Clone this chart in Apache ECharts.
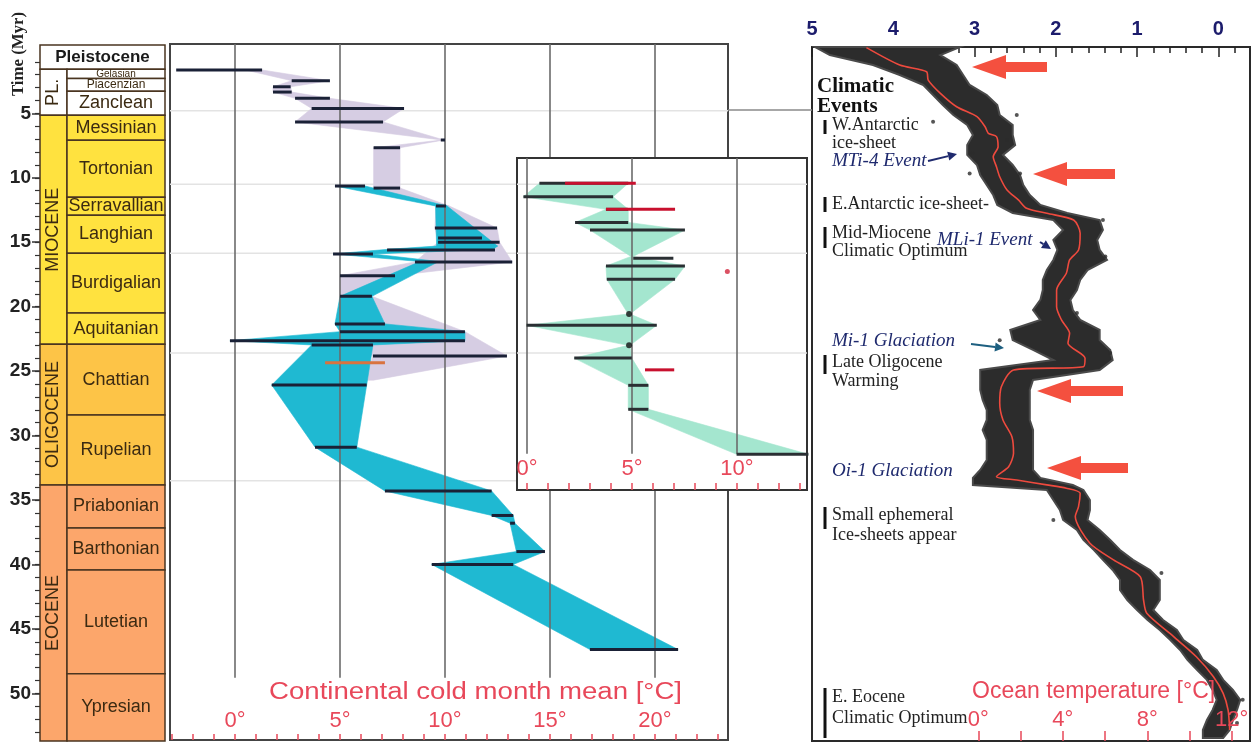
<!DOCTYPE html>
<html>
<head>
<meta charset="utf-8">
<script src="https://cdn.jsdelivr.net/npm/echarts@6/dist/echarts.min.js"></script>
<style>
html,body{margin:0;padding:0;background:#ffffff;}
#chart{width:1255px;height:744px;}
</style>
</head>
<body>
<div id="chart"></div>
<script>
// ---------------- Geological time scale (Myr) ----------------
const epochNames = ['Pleistocene', 'PL.', 'MIOCENE', 'OLIGOCENE', 'EOCENE'];
const epochStart = [-0.3, 1.59, 5.16, 22.91, 33.84];
const epochEnd   = [1.59, 5.16, 22.91, 33.84, 53.7];
const stageNames = ['Gelasian', 'Piacenzian', 'Zanclean', 'Messinian', 'Tortonian', 'Serravallian', 'Langhian',
  'Burdigalian', 'Aquitanian', 'Chattian', 'Rupelian', 'Priabonian', 'Barthonian', 'Lutetian', 'Ypresian'];
const stageStart = [1.59, 2.29, 3.29, 5.16, 7.09, 11.51, 12.91, 15.85, 20.50, 22.91, 28.41, 33.84, 37.17, 40.43, 48.49];
const stageEnd   = [2.29, 3.29, 5.16, 7.09, 11.51, 12.91, 15.85, 20.50, 22.91, 28.41, 33.84, 37.17, 40.43, 48.49, 53.7];
const stageEpoch = ['PL.', 'PL.', 'PL.', 'MIOCENE', 'MIOCENE', 'MIOCENE', 'MIOCENE', 'MIOCENE', 'MIOCENE',
  'OLIGOCENE', 'OLIGOCENE', 'EOCENE', 'EOCENE', 'EOCENE', 'EOCENE'];
const timeLabels = [5, 10, 15, 20, 25, 30, 35, 40, 45, 50];

// ---------------- Continental cold month mean (main panel) ----------------
const barT  = [1.64, 2.47, 2.94, 3.35, 3.84, 4.62, 5.67, 7.07, 7.67, 10.8, 10.64, 12.19, 13.9, 14.67, 15.0, 15.6, 15.91, 16.53, 17.6, 19.2, 21.34, 21.94, 22.64, 22.97, 23.83, 26.08, 30.9, 34.3, 36.2, 36.8, 39.0, 40.0, 46.6];
const barLo = [-2.8, 2.7, 1.81, 1.81, 2.86, 3.65, 2.86, 9.8, 6.6, 6.6, 4.76, 9.57, 9.52, 9.67, 9.67, 7.24, 4.67, 8.57, 5.0, 5.0, 4.76, 5.0, -0.24, 3.65, 6.57, 1.75, 3.81, 7.14, 12.22, 13.1, 13.4, 9.37, 16.9];
const barHi = [1.29, 4.52, 2.65, 2.7, 4.52, 8.05, 7.05, 10.0, 7.86, 7.86, 6.19, 10.05, 12.48, 11.76, 12.6, 12.38, 6.57, 13.2, 7.62, 6.52, 7.14, 10.95, 10.95, 6.57, 12.95, 6.27, 5.8, 12.22, 13.25, 13.33, 14.76, 13.25, 21.1];
const orangeBarT = [24.35];
const orangeBarLo = [4.29];
const orangeBarHi = [7.14];
const purpleT  = [1.64, 2.47, 2.94, 3.35, 3.84, 4.62, 5.67, 7.07, 7.67, 10.8, 12.19, 13.9, 15.0, 16.53, 17.6, 19.2, 21.94, 23.83, 25.7];
const purpleLo = [0.5, 2.7, 1.81, 1.81, 2.86, 3.65, 2.86, 9.85, 6.6, 6.6, 9.57, 9.52, 9.67, 8.57, 5.0, 5.0, 5.0, 6.57, 6.2];
const purpleHi = [1.29, 4.52, 2.65, 2.7, 4.52, 8.05, 7.05, 9.95, 7.86, 7.86, 10.2, 12.48, 12.6, 13.2, 7.62, 6.52, 10.95, 12.95, 6.6];
const cyanT  = [10.64, 12.19, 15.3, 15.55, 15.91, 16.5, 19.2, 21.34, 21.94, 22.64, 22.97, 26.08, 30.9, 34.3, 36.2, 36.8, 39.0, 40.0, 46.6];
const cyanLo = [4.76, 9.55, 9.6, 7.3, 4.67, 8.8, 5.0, 4.76, 5.0, -0.24, 3.65, 1.75, 3.81, 7.14, 12.22, 13.1, 13.4, 9.37, 16.9];
const cyanHi = [6.19, 10.1, 12.5, 12.3, 6.57, 9.7, 6.52, 7.14, 10.95, 10.95, 6.57, 6.27, 5.8, 12.22, 13.25, 13.33, 14.76, 13.25, 21.1];
const mainTicks = [0, 5, 10, 15, 20];
const guideT = [4.8, 10.5, 15.85, 23.6, 33.5];
const mainGridEndT = 48.8;

// ---------------- Inset ----------------
const insetBarT  = [10.43, 11.47, 12.45, 13.46, 14.06, 16.25, 16.85, 17.88, 21.44, 23.99, 26.1, 27.96, 31.45];
const insetBarLo = [0.59, -0.17, 3.76, 2.29, 3.0, 5.06, 3.76, 3.8, -0.02, 2.25, 4.82, 4.82, 9.98];
const insetBarHi = [4.82, 4.1, 4.82, 4.82, 7.52, 6.97, 7.52, 7.05, 6.18, 4.99, 5.78, 5.78, 13.4];
const insetRedT  = [10.43, 12.45, 24.9];
const insetRedLo = [1.81, 3.76, 5.62];
const insetRedHi = [5.18, 7.05, 7.01];
const insetDotT = [20.57, 23.0];
const insetDotV = [4.86, 4.86];
const insetRedDotT = [17.28];
const insetRedDotV = [9.54];
const greenT  = [10.43, 11.47, 12.45, 13.46, 14.06, 16.1, 16.85, 17.88, 20.57, 21.44, 23.0, 23.99, 26.1, 27.96, 31.45];
const greenLo = [0.59, -0.17, 3.76, 2.29, 3.0, 4.95, 3.76, 3.8, 4.82, -0.02, 4.82, 2.25, 4.82, 4.82, 9.98];
const greenHi = [4.82, 4.1, 4.82, 4.82, 7.52, 5.05, 7.52, 7.05, 4.9, 6.18, 4.9, 4.99, 5.78, 5.78, 13.4];
const insetTicks = [0, 5, 10];
const insetGuideT = [10.5, 15.85, 23.6];
const insetGridEndT = 31.4;

// ---------------- Ocean d18O record (right panel) ----------------
const curveT = [-0.1, 1.25, 1.77, 2.42, 3.45, 4.49, 5.26, 6.04, 6.55, 6.81, 7.59, 8.37, 9.14, 9.92, 10.95, 11.72, 12.37, 12.76, 13.28, 14.31, 15.6, 16.38, 17.41, 18.71, 20.0, 21.03, 22.07, 22.84, 24.0, 24.66, 24.91, 26.21, 27.5, 28.79, 30.09, 31.38, 32.42, 33.19, 33.45, 33.83, 34.09, 34.48, 35.52, 36.29, 38.36, 39.65, 40.95, 42.76, 43.79, 45.6, 47.16, 48.71, 50.0, 51.29, 52.84];
const curveD = [4.33, 3.92, 3.59, 3.57, 3.42, 3.22, 2.97, 2.87, 2.83, 2.73, 2.71, 2.77, 2.73, 2.69, 2.60, 2.46, 2.36, 2.11, 1.78, 1.70, 1.72, 1.83, 1.87, 1.99, 1.99, 1.93, 1.83, 1.85, 1.64, 1.66, 2.52, 2.67, 2.69, 2.65, 2.54, 2.52, 2.58, 2.73, 2.48, 2.11, 1.87, 1.70, 1.72, 1.76, 1.58, 1.29, 0.96, 0.92, 0.88, 0.55, 0.27, 0.06, -0.06, -0.12, -0.14];
const cloudT = [-0.14, 0.48, 1.25, 2.03, 2.80, 3.58, 4.35, 5.13, 5.91, 6.68, 7.46, 8.23, 9.01, 9.79, 10.56, 11.34, 12.11, 12.73, 13.28, 14.05, 14.83, 15.60, 16.38, 17.16, 17.93, 18.71, 19.48, 20.26, 21.03, 21.81, 22.59, 23.36, 24.14, 24.91, 25.69, 26.46, 27.24, 28.02, 28.79, 29.57, 30.34, 31.12, 31.90, 32.67, 33.29, 33.84, 34.22, 35.00, 35.78, 36.55, 37.33, 38.10, 38.88, 39.65, 40.43, 41.21, 41.98, 42.76, 43.54, 44.31, 45.09, 45.86, 46.64, 47.41, 48.19, 48.96, 49.74, 50.51, 51.29, 52.07, 52.84, 53.46];
const cloudHeavy = [4.96, 4.78, 4.25, 3.92, 3.63, 3.51, 3.39, 3.26, 3.09, 3.02, 3.09, 3.09, 2.97, 2.93, 2.85, 2.77, 2.72, 2.53, 2.03, 1.91, 2.03, 1.98, 2.03, 2.11, 2.16, 2.16, 2.19, 2.28, 2.19, 2.56, 2.53, 2.28, 2.03, 2.93, 2.93, 2.93, 2.90, 2.85, 2.85, 2.90, 2.85, 2.85, 2.85, 2.93, 3.02, 3.02, 2.11, 2.03, 1.95, 1.91, 1.74, 1.66, 1.53, 1.42, 1.30, 1.21, 1.21, 1.12, 1.00, 0.87, 0.72, 0.59, 0.47, 0.38, 0.26, 0.14, 0.07, 0.02, 0.07, 0.14, 0.19, 0.19];
const cloudLight = [3.18, 3.42, 3.22, 3.14, 3.06, 2.85, 2.72, 2.69, 2.53, 2.53, 2.50, 2.65, 2.53, 2.44, 2.40, 2.32, 2.19, 1.86, 1.46, 1.42, 1.49, 1.46, 1.37, 1.61, 1.70, 1.74, 1.82, 1.79, 1.70, 1.46, 1.46, 1.33, 1.30, 1.46, 2.28, 2.32, 2.32, 2.32, 2.32, 2.28, 2.28, 2.28, 2.28, 2.28, 2.19, 1.79, 1.66, 1.58, 1.58, 1.61, 1.46, 1.33, 1.21, 1.05, 0.84, 0.72, 0.72, 0.72, 0.80, 0.68, 0.51, 0.43, 0.26, 0.19, 0.02, -0.06, -0.18, -0.27, -0.23, -0.18, -0.14, -0.06];
const outlierT = [5.13, 7.07, 9.66, 9.66, 8.07, 5.65, 13.28, 16.1, 20.5, 23.6, 22.6, 40.66, 36.55, 50.5, 52.3];
const outlierD = [2.48, 2.60, 2.44, 3.06, 3.02, 3.51, 1.42, 1.39, 1.74, 1.33, 2.69, 0.70, 2.03, -0.30, -0.23];
const d18OLabels = [0, 1, 2, 3, 4, 5];
const oceanTempLabels = [0, 4, 8, 12];
const oceanTempTicks = [0, 2, 4, 6, 8, 10, 12];

// ---------------- helpers ----------------
const range = (a, b, s = 1) => { const r = []; for (let v = a; v <= b + 1e-9; v += s) r.push(Math.round(v * 100) / 100); return r; };
const EPOCH_W = 0.216;
const epochFill = { 'Pleistocene': '#ffffff', 'PL.': '#ffffff', 'MIOCENE': '#ffe23f', 'OLIGOCENE': '#fdc447', 'EOCENE': '#fca66b' };
const stageFont = { 'Gelasian': 10, 'Piacenzian': 12 };
const SANS = '"Liberation Sans", Arial, sans-serif';
const SERIF = '"Liberation Serif", "Times New Roman", serif';
const NO_LINE = { show: false, onZero: false };

function txt(x, y, text, font, fill, align, extra) {
  return Object.assign({ type: 'text', x, y, silent: true,
    style: { text, font, fill, align: align || 'left', textAlign: align || 'left', verticalAlign: 'middle', textVerticalAlign: 'middle' } }, extra || {});
}

function bandSeries(T, LO, HI, color, xi, yi, z) {
  return {
    type: 'custom', xAxisIndex: xi, yAxisIndex: yi, z, silent: true,
    data: T.slice(0, -1).map((t, i) => [LO[i], t]),
    renderItem(params, api) {
      const i = params.dataIndex;
      const pts = [api.coord([LO[i], T[i]]), api.coord([HI[i], T[i]]), api.coord([HI[i + 1], T[i + 1]]), api.coord([LO[i + 1], T[i + 1]])];
      return { type: 'polygon', shape: { points: pts }, style: { fill: color, stroke: color, lineWidth: 0.6 } };
    }
  };
}
function barSeries(T, LO, HI, color, width, xi, yi, z) {
  return {
    type: 'custom', xAxisIndex: xi, yAxisIndex: yi, z, silent: true,
    data: T.map((t, i) => [LO[i], t]),
    renderItem(params, api) {
      const i = params.dataIndex;
      const a = api.coord([LO[i], T[i]]), b = api.coord([HI[i], T[i]]);
      return { type: 'line', shape: { x1: a[0], y1: a[1], x2: b[0], y2: b[1] }, style: { stroke: color, lineWidth: width } };
    }
  };
}
function vGridSeries(values, tEnd, xi, yi, z) {
  return {
    type: 'custom', xAxisIndex: xi, yAxisIndex: yi, z, silent: true,
    data: values.map(v => [v, tEnd]),
    renderItem(params, api) {
      const v = values[params.dataIndex];
      const cs = params.coordSys;
      const p = api.coord([v, tEnd]);
      return { type: 'line', shape: { x1: p[0], y1: cs.y, x2: p[0], y2: p[1] }, style: { stroke: '#6b6b6b', lineWidth: 1.6 } };
    }
  };
}
function hGuideSeries(values, xi, yi, z) {
  return {
    type: 'custom', xAxisIndex: xi, yAxisIndex: yi, z, silent: true,
    data: values.map(t => [0, t]),
    renderItem(params, api) {
      const t = values[params.dataIndex];
      const cs = params.coordSys;
      const p = api.coord([0, t]);
      return { type: 'line', shape: { x1: cs.x, y1: p[1], x2: cs.x + cs.width, y2: p[1] }, style: { stroke: '#e3e3e3', lineWidth: 1.5 } };
    }
  };
}
function colSeries(names, starts, ends, isEpoch) {
  return {
    type: 'custom', xAxisIndex: 0, yAxisIndex: 0, z: 2, silent: true,
    data: names.map((n, i) => [0, starts[i]]),
    renderItem(params, api) {
      const i = params.dataIndex;
      const name = names[i];
      const full = isEpoch && name === 'Pleistocene';
      const x0 = isEpoch ? 0 : EPOCH_W;
      const x1 = (isEpoch && !full) ? EPOCH_W : 1;
      const p0 = api.coord([x0, starts[i]]), p1 = api.coord([x1, ends[i]]);
      const fill = epochFill[isEpoch ? name : stageEpoch[i]];
      const rect = { type: 'rect', shape: { x: p0[0], y: p0[1], width: p1[0] - p0[0], height: p1[1] - p0[1] },
        style: { fill, stroke: '#4a3520', lineWidth: 1.5 } };
      const cx = (p0[0] + p1[0]) / 2, cy = (p0[1] + p1[1]) / 2;
      let t;
      if (full) t = txt(cx, cy, name, 'bold 17px ' + SANS, '#1a1a1a', 'center');
      else if (isEpoch) t = txt(cx, cy, name, '18px ' + SANS, '#3b2a12', 'center', { rotation: Math.PI / 2 });
      else t = txt(cx, cy, name, (stageFont[name] || 18) + 'px ' + SANS, '#3b2a12', 'center');
      return { type: 'group', children: [rect, t] };
    }
  };
}

// ---------------- annotations ----------------
function redArrow(tx, ty, ex) {
  return { type: 'polygon', silent: true, z: 50,
    shape: { points: [[tx, ty], [tx + 34, ty - 12], [tx + 34, ty - 5], [ex, ty - 5], [ex, ty + 5], [tx + 34, ty + 5], [tx + 34, ty + 12]] },
    style: { fill: '#f4503f' } };
}
function smallArrow(x1, y1, x2, y2, color) {
  const ang = Math.atan2(y2 - y1, x2 - x1), L = 9, W = 4.5;
  const bx = x2 - L * Math.cos(ang), by = y2 - L * Math.sin(ang);
  const nx = -Math.sin(ang) * W, ny = Math.cos(ang) * W;
  return [
    { type: 'line', silent: true, z: 50, shape: { x1, y1, x2: bx, y2: by }, style: { stroke: color, lineWidth: 2 } },
    { type: 'polygon', silent: true, z: 50, shape: { points: [[x2, y2], [bx + nx, by + ny], [bx - nx, by - ny]] }, style: { fill: color } }
  ];
}
function marker(y1, y2) {
  return { type: 'line', silent: true, z: 50, shape: { x1: 825, y1, x2: 825, y2 }, style: { stroke: '#111', lineWidth: 3 } };
}
const NAVY = '#1f2a6e';
const F = '18px ' + SERIF, FI = 'italic 19px ' + SERIF, FB = 'bold 21px ' + SERIF;
const graphics = [
  txt(19, 54, 'Time (Myr)', 'bold 16px ' + SERIF, '#222', 'center', { rotation: Math.PI / 2, scaleX: 1.05 }),
  txt(269, 693, 'Continental cold month mean [°C]', '23px ' + SANS, '#e8485a', 'left', { scaleX: 1.2, z: 60 }),
  txt(972, 692, 'Ocean temperature [°C]', '23px ' + SANS, '#e8485a', 'left', { z: 60 }),
  { type: 'line', silent: true, z: 1, shape: { x1: 728, y1: 110, x2: 812, y2: 110 }, style: { stroke: '#8a8a8a', lineWidth: 1.5 } },
  txt(817, 87, 'Climatic', FB, '#111'),
  txt(817, 107, 'Events', FB, '#111'),
  marker(120, 134), txt(832, 125, 'W.Antarctic', F, '#222'),
  txt(832, 143, 'ice-sheet', F, '#222'),
  txt(832, 161, 'MTi-4 Event', FI, NAVY),
  ...smallArrow(928, 161, 957, 154, NAVY),
  marker(197, 212), txt(832, 204, 'E.Antarctic ice-sheet-', F, '#222'),
  marker(227, 248), txt(832, 233, 'Mid-Miocene', F, '#222'),
  txt(832, 251, 'Climatic Optimum', F, '#222'),
  txt(937, 240, 'MLi-1 Event', FI, NAVY),
  ...smallArrow(1040, 242, 1051, 249, NAVY),
  txt(832, 341, 'Mi-1 Glaciation', FI, NAVY),
  ...smallArrow(971, 344, 1004, 348, '#1d5f80'),
  marker(355, 374), txt(832, 362, 'Late Oligocene', F, '#222'),
  txt(832, 381, 'Warming', F, '#222'),
  txt(832, 471, 'Oi-1 Glaciation', FI, NAVY),
  marker(507, 529), txt(832, 515, 'Small ephemeral', F, '#222'),
  txt(832, 535, 'Ice-sheets appear', F, '#222'),
  marker(688, 738), txt(832, 697, 'E. Eocene', F, '#222'),
  txt(832, 718, 'Climatic Optimum', F, '#222'),
  redArrow(972, 67, 1047),
  redArrow(1033, 174, 1115),
  redArrow(1037, 391, 1123),
  redArrow(1047, 468, 1128)
];

// ---------------- chart ----------------
const RED = '#e8485a';
const chart = echarts.init(document.getElementById('chart'), null, { renderer: 'canvas' });
const option = {
  animation: false,
  backgroundColor: '#ffffff',
  grid: [
    { left: 40, top: 45, width: 125, height: 696, show: false },
    { left: 170, top: 44, width: 558, height: 696, show: true, borderColor: '#444', borderWidth: 2, backgroundColor: '#fff' },
    { left: 517, top: 158, width: 290, height: 332, show: false },
    { left: 812, top: 47, width: 438, height: 694, show: true, borderColor: '#2a2a2a', borderWidth: 2, backgroundColor: '#fff' }
  ],
  xAxis: [
    { gridIndex: 0, type: 'value', min: 0, max: 1, show: false, axisLine: NO_LINE },
    { gridIndex: 1, type: 'value', min: -3.095, max: 23.476, position: 'bottom', axisLine: NO_LINE, splitLine: { show: false },
      axisTick: { inside: true, length: 6, customValues: range(-3, 23), lineStyle: { color: RED, width: 1.5 } },
      axisLabel: { inside: true, customValues: mainTicks, formatter: v => v + '°', color: RED, fontSize: 22, fontFamily: SANS, margin: 8 } },
    { gridIndex: 2, type: 'value', min: -0.476, max: 13.333, position: 'bottom', axisLine: NO_LINE, splitLine: { show: false },
      axisTick: { show: true, inside: true, length: 7, customValues: range(0, 13), lineStyle: { color: RED, width: 1.5 } },
      axisLabel: { inside: true, customValues: insetTicks, formatter: v => v + '°', color: RED, fontSize: 22, fontFamily: SANS, margin: 10 },
      zlevel: 1, z: 30 },
    { gridIndex: 3, type: 'value', inverse: true, min: -0.39, max: 5, position: 'top', axisLine: NO_LINE, splitLine: { show: false },
      axisTick: { inside: true, length: 10, customValues: d18OLabels, lineStyle: { color: '#222', width: 1.5 } },
      axisLabel: { customValues: d18OLabels, color: '#1c1c6c', fontSize: 20, fontWeight: 'bold', fontFamily: SANS, margin: 8 } },
    { gridIndex: 3, type: 'value', inverse: true, min: -0.39, max: 5, position: 'top', axisLine: NO_LINE, splitLine: { show: false },
      axisTick: { inside: true, length: 6, customValues: range(-0.2, 5, 0.2), lineStyle: { color: '#222', width: 1.5 } }, axisLabel: { show: false } },
    { gridIndex: 3, type: 'value', min: -7.874, max: 12.865, position: 'bottom', axisLine: NO_LINE, splitLine: { show: false },
      axisTick: { inside: true, length: 10, customValues: oceanTempTicks, lineStyle: { color: RED, width: 1.5 } },
      axisLabel: { inside: true, customValues: oceanTempLabels, formatter: v => v + '°', color: RED, fontSize: 22, fontFamily: SANS, margin: 10 }, z: 30 }
  ],
  yAxis: [
    { gridIndex: 0, type: 'value', inverse: true, min: -0.3, max: 53.7, position: 'left', axisLine: NO_LINE, splitLine: { show: false },
      axisTick: { inside: false, length: 8, customValues: timeLabels, lineStyle: { color: '#333', width: 1.5 } },
      axisLabel: { customValues: timeLabels, color: '#222', fontSize: 19, fontWeight: 'bold', fontFamily: SANS, margin: 9 } },
    { gridIndex: 0, type: 'value', inverse: true, min: -0.3, max: 53.7, position: 'left', axisLine: NO_LINE, splitLine: { show: false },
      axisTick: { inside: false, length: 5, customValues: range(1, 53), lineStyle: { color: '#333', width: 1.2 } }, axisLabel: { show: false } },
    { gridIndex: 1, type: 'value', inverse: true, min: -0.378, max: 53.62, show: false, axisLine: NO_LINE },
    { gridIndex: 2, type: 'value', inverse: true, min: 8.466, max: 34.22, show: false, axisLine: NO_LINE },
    { gridIndex: 3, type: 'value', inverse: true, min: -0.145, max: 53.7, show: false, axisLine: NO_LINE }
  ],
  series: [
    colSeries(epochNames, epochStart, epochEnd, true),
    colSeries(stageNames, stageStart, stageEnd, false),
    // main panel
    hGuideSeries(guideT, 1, 2, 1),
    bandSeries(purpleT, purpleLo, purpleHi, '#d6cde3', 1, 2, 2),
    bandSeries(cyanT, cyanLo, cyanHi, '#1fb9d2', 1, 2, 3),
    vGridSeries(mainTicks, mainGridEndT, 1, 2, 4),
    barSeries(barT, barLo, barHi, '#1a2136', 3, 1, 2, 5),
    barSeries(orangeBarT, orangeBarLo, orangeBarHi, '#d9733f', 3, 1, 2, 5),
    // inset
    { type: 'custom', xAxisIndex: 2, yAxisIndex: 3, z: 10, silent: true, data: [[0, 10]],
      renderItem(params) { const cs = params.coordSys;
        return { type: 'rect', shape: { x: cs.x, y: cs.y, width: cs.width, height: cs.height }, style: { fill: '#fff', stroke: '#333', lineWidth: 2 } }; } },
    hGuideSeries(insetGuideT, 2, 3, 11),
    bandSeries(greenT, greenLo, greenHi, '#a4e6cf', 2, 3, 12),
    vGridSeries(insetTicks, insetGridEndT, 2, 3, 13),
    barSeries(insetBarT, insetBarLo, insetBarHi, '#2a2f33', 3, 2, 3, 14),
    barSeries(insetRedT, insetRedLo, insetRedHi, '#c8102e', 3, 2, 3, 15),
    { type: 'scatter', xAxisIndex: 2, yAxisIndex: 3, z: 15, silent: true, symbolSize: 6,
      itemStyle: { color: '#111' }, data: insetDotT.map((t, i) => [insetDotV[i], t]) },
    { type: 'scatter', xAxisIndex: 2, yAxisIndex: 3, z: 15, silent: true, symbolSize: 5,
      itemStyle: { color: '#d2263c' }, data: insetRedDotT.map((t, i) => [insetRedDotV[i], t]) },
    // right panel
    { type: 'custom', xAxisIndex: 3, yAxisIndex: 4, z: 2, silent: true, data: [[cloudHeavy[0], cloudT[0]]],
      renderItem(params, api) {
        const pts = cloudT.map((t, i) => api.coord([cloudHeavy[i], t]));
        for (let i = cloudT.length - 1; i >= 0; i--) pts.push(api.coord([cloudLight[i], cloudT[i]]));
        return { type: 'polygon', shape: { points: pts }, style: { fill: '#2c2c2c', stroke: '#4a4a4a', lineWidth: 2 } };
      } },
    { type: 'scatter', xAxisIndex: 3, yAxisIndex: 4, z: 3, silent: true, symbolSize: 4,
      itemStyle: { color: '#2c2c2c' }, data: outlierT.map((t, i) => [outlierD[i], t]) },
    { type: 'line', xAxisIndex: 3, yAxisIndex: 4, z: 4, silent: true, showSymbol: false, smooth: 0.25,
      lineStyle: { color: '#ee4a3e', width: 1.6 }, data: curveT.map((t, i) => [curveD[i], t]) }
  ],
  graphic: { elements: graphics }
};
chart.setOption(option);
</script>
</body>
</html>
